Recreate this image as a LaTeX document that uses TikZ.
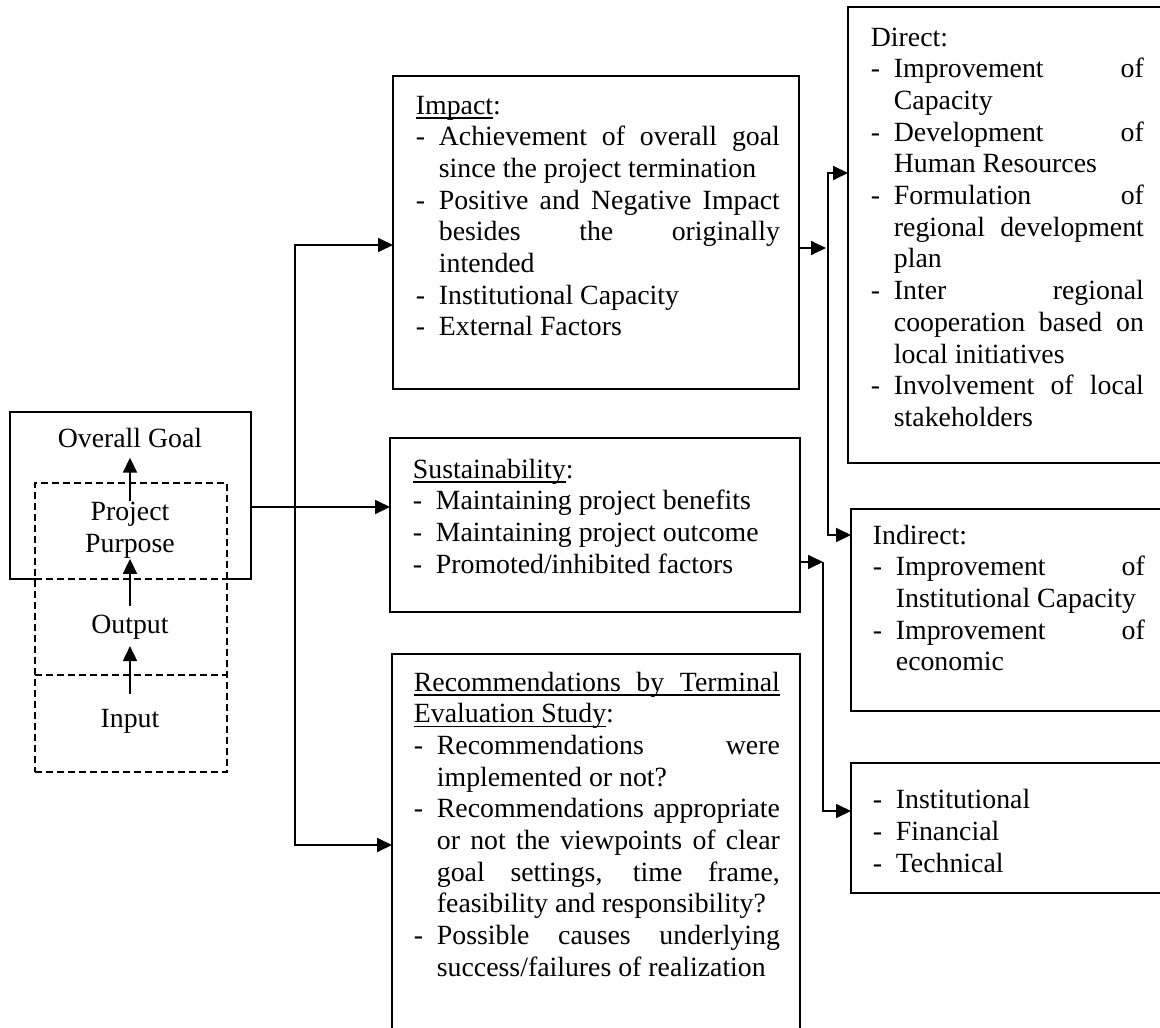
\documentclass[tikz,border=0pt]{standalone}
\usepackage{fontspec}
\setmainfont{Liberation Serif}
\usetikzlibrary{arrows.meta, positioning}
\setlength{\parindent}{0pt}
\hyphenpenalty=10000 \exhyphenpenalty=10000 \tolerance=10000 \hbadness=10000

\newcommand{\bodyfont}{\fontsize{27.8pt}{31.7pt}\selectfont}
\newcommand{\itm}{\par\noindent\hangindent=23pt\hangafter=1\makebox[23pt][l]{\strut-}}
\newcommand{\uln}[1]{\setbox0\hbox{#1}\rlap{\rule[-4.5pt]{\wd0}{1.6pt}}\box0}

\begin{document}
\begin{tikzpicture}[x=1pt, y=-1pt, >={Triangle[length=15pt, width=14pt]}, line width=1.8pt,
  panel/.style={draw, anchor=north west, inner sep=0pt, outer sep=0pt, line width=1.8pt},
  chainbox/.style={panel, fill=white, dash pattern=on 7pt off 4pt},
  stagetext/.style={inner sep=0pt, font=\bodyfont, align=center},
  bodytext/.style={anchor=north west, inner sep=0pt, align=justify, font=\bodyfont}
]

% Frame
\useasboundingbox (0,0) rectangle (1160,1028);
\clip (0,0) rectangle (1160,1028);

% Left stack
\node[panel, minimum width=241pt, minimum height=167pt] (goalbox) at (10,412) {};
\node[chainbox, minimum width=192pt, minimum height=289pt] (chain) at (35,483) {};
\coordinate (div1) at (0,579);
\coordinate (div2) at (0,675);
\draw[dash pattern=on 7pt off 4pt] (chain.west |- div1) -- (chain.east |- div1);
\draw[dash pattern=on 7pt off 4pt] (chain.west |- div2) -- (chain.east |- div2);

\node[stagetext] (goal) at (130,438) {Overall Goal};
\node[stagetext] (purpose) at (130,530) {Project\\Purpose};
\node[stagetext] (output) at (130,627) {Output};
\node[stagetext] (input) at (130,721) {Input};

\draw[->] (purpose.north) -- ([yshift=-9pt]goal.south);
\draw[->] ([yshift=8pt]output.north) -- (purpose.south);
\draw[->] ([yshift=14pt]input.north) -- ([yshift=-6pt]output.south);

% Middle column
\node[panel, minimum width=406pt, minimum height=313pt] (impact) at (393,76) {};
\node[bodytext, text width=364pt] (impact-text) at ([xshift=22pt, yshift=-15pt]impact.north west)
  {\strut\uln{Impact}:
   \itm Achievement of overall goal\linebreak since the project termination
   \itm Positive and Negative Impact\linebreak besides the originally\linebreak intended
   \itm Institutional Capacity
   \itm External Factors\par};

\node[panel, minimum width=410pt, minimum height=174pt] (sustain) at (390,438) {};
\node[bodytext, text width=366pt] (sustain-text) at ([xshift=22pt, yshift=-17pt]sustain.north west)
  {\strut\uln{Sustainability}:
   \itm Maintaining project benefits
   \itm Maintaining project outcome
   \itm Promoted/inhibited factors\par};

\node[panel, minimum width=408pt, minimum height=400pt] (recom) at (392,654) {};
\node[bodytext, text width=366pt] (recom-text) at ([xshift=21pt, yshift=-14pt]recom.north west)
  {\strut\uln{\makebox[\hsize][s]{Recommendations by Terminal}}\par
   \noindent\uln{Evaluation Study}:
   \itm Recommendations were\linebreak implemented or not?
   \itm Recommendations appropriate\linebreak or not the viewpoints of clear\linebreak goal settings, time frame,\linebreak feasibility and responsibility?
   \itm Possible causes underlying\linebreak success/failures of realization\par};

% Right column
\node[panel, minimum width=340pt, minimum height=456pt] (direct) at (848,7) {};
\node[bodytext, text width=273pt] (direct-text) at ([xshift=22pt, yshift=-16pt]direct.north west)
  {\strut Direct:
   \itm Improvement of\linebreak Capacity
   \itm Development of\linebreak Human Resources
   \itm Formulation of\linebreak regional development\linebreak plan
   \itm Inter regional\linebreak cooperation based on\linebreak local initiatives
   \itm Involvement of local\linebreak stakeholders\par};

\node[panel, minimum width=340pt, minimum height=202pt] (indirect) at (851,509) {};
\node[bodytext, text width=272pt] (indirect-text) at ([xshift=21pt, yshift=-12pt]indirect.north west)
  {\strut Indirect:
   \itm Improvement of\linebreak Institutional Capacity
   \itm Improvement of\linebreak economic\par};

\node[panel, minimum width=340pt, minimum height=130pt] (tech) at (851,763) {};
\node[bodytext, text width=272pt] (tech-text) at ([xshift=21pt, yshift=-13pt]tech.north west)
  {\itm Institutional
   \itm Financial
   \itm Technical\par};

% Left fork
\coordinate (fork) at (295,507);
\coordinate (fork-top) at (295,245);
\coordinate (fork-bot) at (295,845);
\draw[->] (goalbox.east |- fork) -- (sustain.west |- fork);
\draw[<->] (impact.west |- fork-top) -- (fork-top) -- (fork-bot) -- (recom.west |- fork-bot);

% Right forks
\coordinate (imp-out) at (826,248);
\coordinate (dir-top) at (828,173);
\coordinate (dir-bot) at (828,535);
\draw[->] (impact.east |- imp-out) -- (imp-out);
\draw[<->] (direct.west |- dir-top) -- (dir-top) -- (dir-bot) -- (indirect.west |- dir-bot);

\coordinate (sus-top) at (823,562);
\coordinate (sus-bot) at (823,811);
\draw[->] (sustain.east |- sus-top) -- (sus-top);
\draw[->] (sus-top) -- (sus-bot) -- (tech.west |- sus-bot);

\end{tikzpicture}
\end{document}
